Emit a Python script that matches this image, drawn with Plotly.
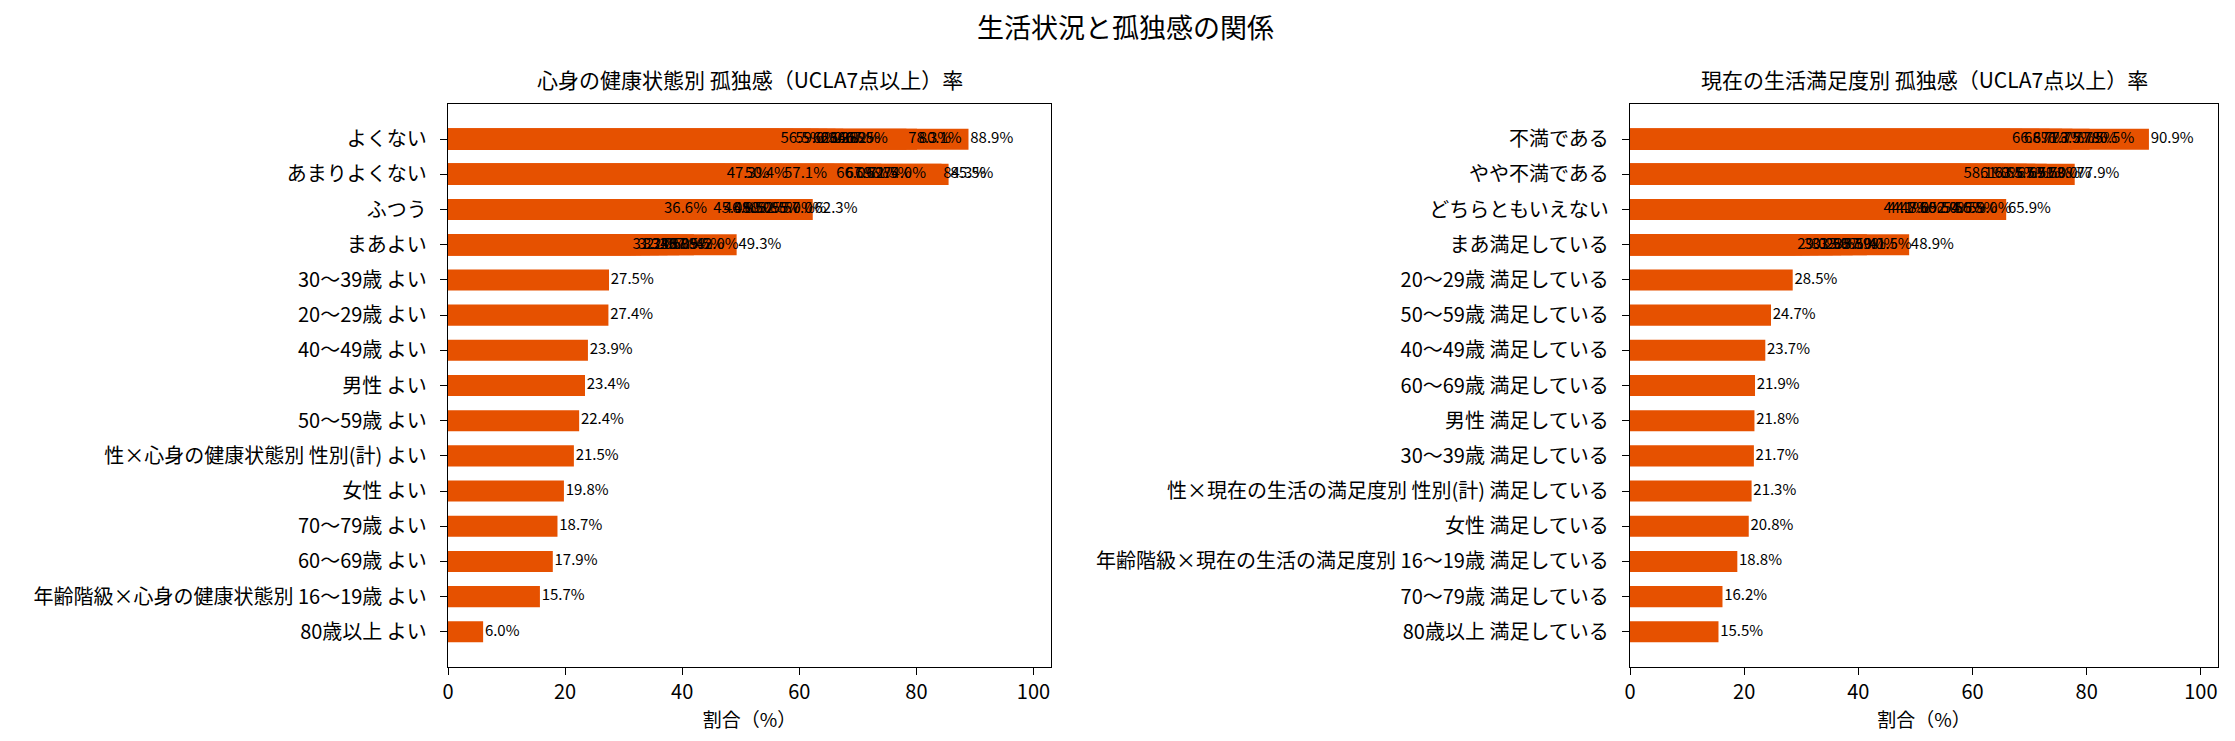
import plotly.graph_objects as go

# 心身の健康状態別 (left panel) - one entry per bar, several bars share a label
health_labels = (
    ["80歳以上 よい", "年齢階級×心身の健康状態別 16〜19歳 よい", "60〜69歳 よい", "70〜79歳 よい",
     "女性 よい", "性×心身の健康状態別 性別(計) よい", "50〜59歳 よい", "男性 よい",
     "40〜49歳 よい", "20〜29歳 よい", "30〜39歳 よい"]
    + ["まあよい"] * 9
    + ["ふつう"] * 9
    + ["あまりよくない"] * 10
    + ["よくない"] * 10
)
health_values = (
    [6.0, 15.7, 17.9, 18.7, 19.8, 21.5, 22.4, 23.4, 23.9, 27.4, 27.5]
    + [31.2, 32.1, 33.0, 34.5, 36.0, 37.5, 39.5, 42.0, 49.3]
    + [36.6, 45.0, 46.8, 48.5, 50.0, 52.5, 55.0, 57.0, 62.3]
    + [47.3, 50.4, 57.1, 66.0, 67.6, 69.2, 71.5, 74.0, 84.3, 85.5]
    + [56.5, 59.0, 62.0, 63.3, 64.8, 66.2, 67.5, 78.3, 80.1, 88.9]
)

# 現在の生活満足度別 (right panel)
life_labels = (
    ["80歳以上 満足している", "70〜79歳 満足している", "年齢階級×現在の生活の満足度別 16〜19歳 満足している",
     "女性 満足している", "性×現在の生活の満足度別 性別(計) 満足している", "30〜39歳 満足している",
     "男性 満足している", "60〜69歳 満足している", "40〜49歳 満足している", "50〜59歳 満足している",
     "20〜29歳 満足している"]
    + ["まあ満足している"] * 9
    + ["どちらともいえない"] * 9
    + ["やや不満である"] * 9
    + ["不満である"] * 8
)
life_values = (
    [15.5, 16.2, 18.8, 20.8, 21.3, 21.7, 21.8, 21.9, 23.7, 24.7, 28.5]
    + [29.0, 30.2, 31.5, 33.0, 35.5, 37.0, 39.0, 41.5, 48.9]
    + [44.1, 44.8, 47.0, 50.5, 52.0, 54.5, 56.5, 59.0, 65.9]
    + [58.1, 61.0, 63.5, 65.5, 67.5, 69.5, 71.0, 73.0, 77.9]
    + [66.6, 68.7, 71.7, 73.5, 75.7, 77.5, 80.5, 90.9]
)

BAR_COLOR = '#e65100'
FONT = "Noto Sans CJK JP"


def sorted_pairs(labels, values):
    # ascending order: first appearance of a label fixes its row (bottom up)
    pairs = sorted(zip(labels, values), key=lambda p: p[1])
    order = []
    for lab, _ in pairs:
        if lab not in order:
            order.append(lab)
    return [p[0] for p in pairs], [p[1] for p in pairs], order


fig = go.Figure()

panels = [
    (health_labels, health_values, 'x', 'y'),
    (life_labels, life_values, 'x2', 'y2'),
]
orders = []
for labels, values, xa, ya in panels:
    labs, vals, order = sorted_pairs(labels, values)
    orders.append(order)
    fig.add_trace(go.Bar(
        x=vals, y=labs, orientation='h', width=0.6,
        marker=dict(color=BAR_COLOR, line_width=0),
        xaxis=xa, yaxis=ya, showlegend=False, hoverinfo='x+y',
    ))
    fig.add_trace(go.Scatter(
        x=[v + 0.3 for v in vals], y=labs, mode='text',
        text=[f"{v:.1f}%" for v in vals], textposition='middle right',
        textfont=dict(size=15, color='black', family=FONT),
        xaxis=xa, yaxis=ya, showlegend=False, hoverinfo='skip', cliponaxis=False,
    ))

axis_style = dict(
    showline=True, mirror=True, linecolor='black', linewidth=1.4,
    ticks='outside', ticklen=7, tickwidth=1.3, tickcolor='black',
    showgrid=False, zeroline=False, tickfont=dict(size=20, color='black'),
)

L_DOM = [0, 0.3407]
R_DOM = [0.6678, 1]

fig.update_layout(
    width=2235, height=741,
    margin=dict(l=440, r=25, t=96, b=82),
    plot_bgcolor='white', paper_bgcolor='white',
    font=dict(family=FONT, color='black'),
    barmode='overlay',
    title=dict(text='生活状況と孤独感の関係', x=0.5, xanchor='center',
               y=0.972, yanchor='middle', font=dict(size=27)),
    xaxis=dict(domain=L_DOM, range=[0, 103], tickvals=[0, 20, 40, 60, 80, 100],
               title=dict(text='割合（%）', font=dict(size=19), standoff=2), **axis_style),
    xaxis2=dict(domain=R_DOM, range=[0, 103], tickvals=[0, 20, 40, 60, 80, 100],
                title=dict(text='割合（%）', font=dict(size=19), standoff=2), anchor='y2', **axis_style),
    yaxis=dict(type='category', categoryorder='array', categoryarray=orders[0],
               range=[-1.0, len(orders[0])], ticksuffix='  ', **axis_style),
    yaxis2=dict(type='category', categoryorder='array', categoryarray=orders[1],
                range=[-1.0, len(orders[1])], anchor='x2', ticksuffix='  ', **axis_style),
    annotations=[
        dict(text='心身の健康状態別 孤独感（UCLA7点以上）率', x=sum(L_DOM) / 2, y=1.044,
             xref='paper', yref='paper', xanchor='center', yanchor='middle',
             showarrow=False, font=dict(size=21)),
        dict(text='現在の生活満足度別 孤独感（UCLA7点以上）率', x=sum(R_DOM) / 2, y=1.044,
             xref='paper', yref='paper', xanchor='center', yanchor='middle',
             showarrow=False, font=dict(size=21)),
    ],
)

fig.write_html("out.html")
